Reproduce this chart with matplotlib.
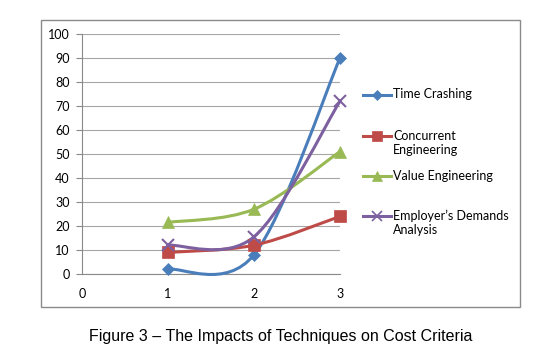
import numpy as np
import matplotlib
matplotlib.use('Agg')
import matplotlib.pyplot as plt
from matplotlib.path import Path
from matplotlib.patches import PathPatch, Rectangle
from matplotlib.lines import Line2D

"""data"""
x_vals = [1, 2, 3]
series_names = ['Time Crashing', 'Concurrent\nEngineering', 'Value Engineering',
                "Employer\u2019s Demands\nAnalysis"]
time_crashing = [2, 8, 90]
concurrent_eng = [9, 12, 24]
value_eng = [21.5, 27, 51]
employer_demands = [12, 15.5, 72]
x_ticks = [0, 1, 2, 3]
y_ticks = list(range(0, 101, 10))
caption = 'Figure 3 \u2013 The Impacts of Techniques on Cost Criteria'

colors = ['#4A7EBB', '#BE4B48', '#98B954', '#7D60A0']
markers = ['D', 's', '^', 'x']
msizes = [6, 8, 8, 8]

plt.rcParams['font.family'] = ['Lato', 'DejaVu Sans']


def SmoothPath(xs, ys):
    # excel style smoothed line: cubic bezier through the points
    p = np.column_stack([xs, ys]).astype(float)
    n = len(p)
    verts = [p[0]]
    codes = [Path.MOVETO]
    for i in range(n - 1):
        prev = p[i - 1] if i > 0 else p[i]
        nxt = p[i + 2] if i + 2 < n else p[i + 1]
        c1 = p[i] + (p[i + 1] - prev) / 6
        c2 = p[i + 1] - (nxt - p[i]) / 6
        verts += [c1, c2, p[i + 1]]
        codes += [Path.CURVE4] * 3
    return Path(verts, codes)


W, H = 547, 363
fig = plt.figure(figsize=(W / 100, H / 100), dpi=100)
fig.patch.set_facecolor('white')

# chart frame
fig.add_artist(Rectangle((41 / W, 1 - 306.5 / H), 479 / W, 287 / H, transform=fig.transFigure,
                         fill=False, edgecolor='#8a8a8a', linewidth=1))

ax = fig.add_axes([82 / W, 1 - 274 / H, 258 / W, 240 / H])
ax.set_xlim(0, 3)
ax.set_ylim(0, 100)
ax.set_xticks(x_ticks)
ax.set_yticks(y_ticks)
ax.tick_params(axis='y', length=4.5, color='#8a8a8a', labelsize=9, pad=4.5)
ax.tick_params(axis='x', length=0, labelsize=9, pad=10)
for s in ['top', 'right']:
    ax.spines[s].set_visible(False)
ax.spines['left'].set_color('#8a8a8a')
ax.spines['bottom'].set_color('#8a8a8a')
ax.yaxis.grid(True, color='#a6a6a6', linewidth=0.8)
ax.set_axisbelow(True)

all_series = [time_crashing, concurrent_eng, value_eng, employer_demands]
for ys, c, m, ms in zip(all_series, colors, markers, msizes):
    ax.add_patch(PathPatch(SmoothPath(x_vals, ys), facecolor='none', edgecolor=c,
                           linewidth=2.2, clip_on=False, zorder=3))
    ax.plot(x_vals, ys, linestyle='none', marker=m, color=c, markersize=ms,
            markeredgewidth=1.5 if m == 'x' else 0.5, clip_on=False, zorder=4)

# legend drawn by hand so the marker sits on the first text line
leg_y = [95, 136, 176, 216]
for name, c, m, ms, yy in zip(series_names, colors, markers, msizes, leg_y):
    fy = 1 - yy / H
    fig.add_artist(Line2D([363 / W, 391 / W], [fy, fy], transform=fig.transFigure,
                          color=c, linewidth=2.2))
    fig.add_artist(Line2D([377 / W], [fy], transform=fig.transFigure, marker=m,
                          color=c, markersize=ms - 1, markeredgewidth=1.2 if m == 'x' else 0.5))
    fig.text(393 / W, fy + 6.5 / H, name, fontsize=9, va='top', ha='left', linespacing=1.25)

fig.text(281 / W, 1 - 341 / H, caption, fontsize=11.5, ha='center', va='baseline',
         family=['Liberation Sans', 'DejaVu Sans'])

plt.savefig('out.png', dpi=100)
